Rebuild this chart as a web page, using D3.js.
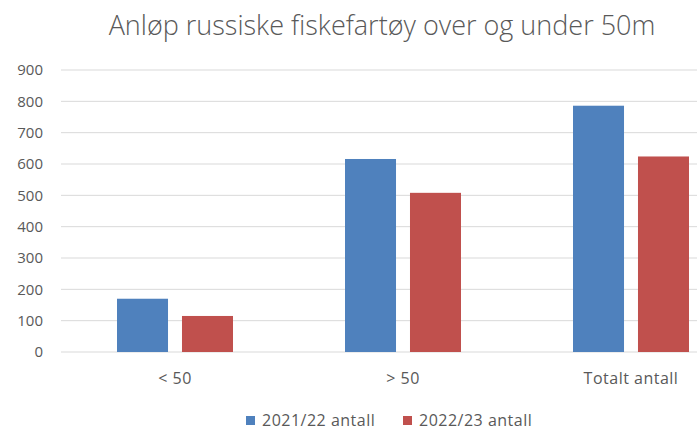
<!DOCTYPE html>
<html>
<head>
<meta charset="utf-8">
<script src="https://cdn.jsdelivr.net/npm/d3@7"></script>
<style>
  body { margin: 0; background: #fff; }
  svg { font-family: "Open Sans", Lato, sans-serif; }
</style>
</head>
<body>
<div id="chart"></div>
<script>
// data
var categories = ["< 50", "> 50", "Totalt antall"];
var seriesNames = ["2021/22 antall", "2022/23 antall"];
var values2122 = [170, 616, 786];
var values2223 = [115, 508, 624];
var yTicks = [0, 100, 200, 300, 400, 500, 600, 700, 800, 900];
var colors = ["#4f81bd", "#c0504d"];

var width = 697, height = 430;
// plot area runs past the right edge, as in the cropped original
var margin = { top: 70, left: 61, bottom: 78 };
var plotRight = 745;

var svg = d3.select("#chart")
  .append("svg")
  .attr("width", width)
  .attr("height", height);

var y = d3.scaleLinear()
  .domain([0, 900])
  .range([height - margin.bottom, margin.top]);

var x0 = d3.scaleBand()
  .domain(categories)
  .range([margin.left, plotRight]);

var x1 = d3.scaleBand()
  .domain(seriesNames)
  .range([0, 116])
  .paddingInner(0.215);

// gridlines
svg.append("g")
  .selectAll("line")
  .data(yTicks)
  .enter()
  .append("line")
  .attr("x1", margin.left)
  .attr("x2", plotRight)
  .attr("y1", function(d) { return y(d); })
  .attr("y2", function(d) { return y(d); })
  .attr("stroke", "#d9d9d9")
  .attr("stroke-width", 1);

// y axis labels
var yAxis = d3.axisLeft(y).tickValues(yTicks).tickSize(0).tickPadding(18);
var yg = svg.append("g")
  .attr("transform", "translate(" + margin.left + ",0)")
  .call(yAxis);
yg.select(".domain").remove();
yg.selectAll("text")
  .attr("fill", "#595959")
  .style("font-family", "'Open Sans', sans-serif")
  .style("font-size", "15px");

// bars
var rows = categories.map(function(c, i) {
  return { cat: c, vals: [values2122[i], values2223[i]] };
});

var groups = svg.selectAll(".grp")
  .data(rows)
  .enter()
  .append("g")
  .attr("transform", function(d) {
    return "translate(" + (x0(d.cat) + (x0.bandwidth() - 116) / 2) + ",0)";
  });

groups.selectAll("rect")
  .data(function(d) { return d.vals.map(function(v, j) { return { s: seriesNames[j], v: v, j: j }; }); })
  .enter()
  .append("rect")
  .attr("x", function(d) { return x1(d.s); })
  .attr("width", x1.bandwidth())
  .attr("y", function(d) { return y(d.v); })
  .attr("height", function(d) { return y(0) - y(d.v); })
  .attr("fill", function(d) { return colors[d.j]; });

// x labels
svg.append("g")
  .selectAll("text")
  .data(categories)
  .enter()
  .append("text")
  .attr("x", function(d) { return x0(d) + x0.bandwidth() / 2; })
  .attr("y", 384)
  .attr("text-anchor", "middle")
  .attr("fill", "#595959")
  .style("font-size", "16px")
  .style("letter-spacing", "0.5px")
  .text(function(d) { return d; });

// title
svg.append("text")
  .attr("x", 382)
  .attr("y", 35)
  .attr("text-anchor", "middle")
  .attr("fill", "#595959")
  .style("font-size", "27px")
  .style("font-weight", 300)
  .text("Anløp russiske fiskefartøy over og under 50m");

// legend
var legendX = [246, 403];
var legend = svg.append("g")
  .selectAll("g")
  .data(seriesNames)
  .enter()
  .append("g")
  .attr("transform", function(d, i) { return "translate(" + legendX[i] + ",416)"; });
legend.append("rect")
  .attr("width", 9)
  .attr("height", 9)
  .attr("fill", function(d, i) { return colors[i]; });
legend.append("text")
  .attr("x", 16)
  .attr("y", 10)
  .attr("fill", "#595959")
  .style("font-size", "16px")
  .style("letter-spacing", "0.5px")
  .text(function(d) { return d; });
</script>
</body>
</html>
